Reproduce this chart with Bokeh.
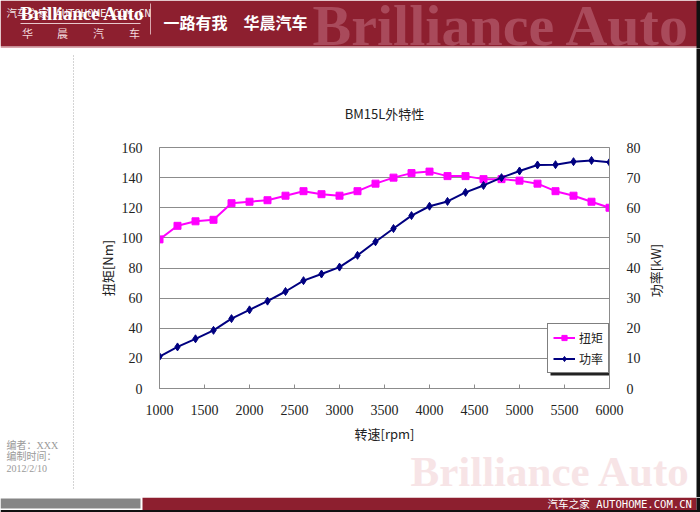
import math
from bokeh.plotting import figure
from bokeh.layouts import column, row
from bokeh.models import (Range1d, LinearAxis, FixedTicker, Legend, LegendItem)
from bokeh.core.properties import value
from bokeh.embed import file_html
from bokeh.resources import INLINE

# ---------------- data ----------------
rpm = [1000, 1200, 1400, 1600, 1800, 2000, 2200, 2400, 2600, 2800, 3000, 3200, 3400,
       3600, 3800, 4000, 4200, 4400, 4600, 4800, 5000, 5200, 5400, 5600, 5800, 6000]
torque_nm = [99, 108, 111, 112, 123, 124, 125, 128, 131, 129, 128, 131, 136,
             140, 143, 144, 141, 141, 139, 139, 138, 136, 131, 128, 124, 120]
power_kw = [10.6, 13.8, 16.5, 19.3, 23.2, 26.1, 29.0, 32.2, 35.8, 38.0, 40.3, 44.2, 48.7,
            53.1, 57.4, 60.5, 62.1, 65.1, 67.4, 70.0, 72.2, 74.2, 74.3, 75.3, 75.7, 75.1]
x_ticks = [1000, 1500, 2000, 2500, 3000, 3500, 4000, 4500, 5000, 5500, 6000]
torque_ticks = [0, 20, 40, 60, 80, 100, 120, 140, 160]
power_ticks = [0, 10, 20, 30, 40, 50, 60, 70, 80]
series_names = ["扭矩", "功率"]
chart_title = "BM15L外特性"
x_label = "转速[rpm]"
y_label_left = "扭矩[Nm]"
y_label_right = "功率[kW]"

# ---------------- styles ----------------
W, H = 700, 512
HEAD_H, FOOT_TOP = 48, 497
LEFT_W, RIGHT_X = 74, 696
FL, FR, FT, FB = 159, 609, 147, 388   # plot frame in page pixels
CHART_RIGHT = 645
CHART_BOTTOM = 445
RED = "#8D1F2F"
MAGENTA = "#FF00FF"
NAVY = "#000080"
GRID = "#8C8C8C"
DARK = "#111111"
NUM_FONT = "Liberation Serif"
CJK_FONT = "Noto Sans CJK SC"


def no_align(f):
    try:
        f.frame_align = False
    except Exception:
        pass
    return f


def canvas(x0, x1, y0, y1, bg="white"):
    """A blank figure whose data coordinates are the page's pixel coordinates."""
    f = figure(width=x1 - x0, height=y1 - y0, output_backend="svg", toolbar_location=None,
               x_range=Range1d(x0, x1), y_range=Range1d(y1, y0),
               x_axis_type=None, y_axis_type=None, min_border=0,
               background_fill_color=bg, border_fill_color=bg, outline_line_color=None)
    return no_align(f)


def box(f, l, r, t, b, color):
    f.quad(left=[l], right=[r], top=[t], bottom=[b], fill_color=color, line_color=None)


def txt(f, x, y, s, size, color, font=CJK_FONT, align="left", baseline="middle",
        style="normal", alpha=1.0, angle=0.0):
    f.text(x=[x], y=[y], text=[s], text_font=value(font), text_font_size=size,
           text_color=color, text_align=align, text_baseline=baseline,
           text_font_style=style, text_alpha=alpha, angle=angle)


def seg(f, x0, y0, x1, y1, color, width=1, dash="solid"):
    f.segment(x0=[x0], y0=[y0], x1=[x1], y1=[y1], line_color=color, line_width=width,
              line_dash=dash)


# ---------------- header ----------------
head = canvas(0, W, 0, HEAD_H)
box(head, 0, W, 0, 46, RED)
seg(head, 0, 47, W, 47, "#D9A7AE")
txt(head, 312, 25, "Brilliance Auto", "58px", "#A94A5B", font="Liberation Serif",
    style="bold")
txt(head, 20, 13, "Brilliance Auto", "19px", "white", font="Liberation Serif",
    style="bold")
seg(head, 20, 23, 140, 23, "#E8C8CC")
for cx_, ch in zip([27, 62, 98, 134], ["华", "晨", "汽", "车"]):
    txt(head, cx_, 32, ch, "11px", "#F2DADD", align="center")
seg(head, 150, 3, 150, 34, "#D9A7AE")
txt(head, 163, 21, "一路有我　华晨汽车", "16px", "white", style="bold")
txt(head, 6, 12, "汽车之家 AUTOHOME.COM.CN", "10.6px", "white",
    font="DejaVu Sans Mono, Noto Sans CJK SC", alpha=0.9)
box(head, RIGHT_X, W, 0, HEAD_H, DARK)

# ---------------- left margin ----------------
left = canvas(0, LEFT_W, HEAD_H, FOOT_TOP)
seg(left, 73, 55, 73, 488, "#A8A8A8", 1, "1 2")
txt(left, 6, 445, "编者：XXX", "10px", "#9A9A9A", font="Liberation Serif, Noto Sans CJK SC")
txt(left, 6, 456, "编制时间：", "10px", "#9A9A9A", font="Liberation Serif, Noto Sans CJK SC")
txt(left, 6, 468, "2012/2/10", "10px", "#9A9A9A", font="Liberation Serif")

# ---------------- chart ----------------
p = figure(width=CHART_RIGHT - LEFT_W, height=CHART_BOTTOM - HEAD_H,
           output_backend="svg", toolbar_location=None,
           x_range=Range1d(1000, 6000), y_range=Range1d(0, 160),
           min_border_left=FL - LEFT_W, min_border_right=CHART_RIGHT - FR,
           min_border_top=FT - HEAD_H, min_border_bottom=CHART_BOTTOM - FB,
           background_fill_color="white", border_fill_color="white",
           outline_line_color=GRID, outline_line_width=1)
no_align(p)
p.extra_y_ranges = {"power": Range1d(0, 80), "cy": Range1d(FB, FT)}
p.extra_x_ranges = {"cx": Range1d(FL, FR)}

p.title.text = chart_title
p.title.align = "center"
p.title.text_font = CJK_FONT
p.title.text_font_size = "13px"
p.title.text_font_style = "normal"
p.title.text_color = "#222222"
p.title.standoff = 50

xa = p.xaxis[0]
xa.ticker = FixedTicker(ticks=x_ticks)
xa.axis_label = x_label
ya = p.yaxis[0]
ya.ticker = FixedTicker(ticks=torque_ticks)
ya.axis_label = y_label_left
ra = LinearAxis(y_range_name="power", ticker=FixedTicker(ticks=power_ticks))
p.add_layout(ra, "right")

for ax in (xa, ya, ra):
    ax.axis_line_color = GRID
    ax.major_label_text_font = NUM_FONT
    ax.major_label_text_font_size = "14px"
    ax.major_label_text_color = "#222222"
    ax.axis_label_text_font = CJK_FONT
    ax.axis_label_text_font_size = "13px"
    ax.axis_label_text_font_style = "normal"
    ax.axis_label_text_color = "#222222"
    ax.minor_tick_line_color = None
for ax in (ya, ra):
    ax.major_tick_line_color = None
    ax.major_label_standoff = 11
ya.axis_label_standoff = 2
xa.major_tick_in = 4
xa.major_tick_out = 0
xa.major_tick_line_color = GRID
xa.major_label_standoff = 16
xa.axis_label_standoff = 6

p.xgrid.grid_line_color = None
p.ygrid.grid_line_color = GRID
p.ygrid.ticker = FixedTicker(ticks=torque_ticks)

tl = p.line(rpm, torque_nm, line_color=MAGENTA, line_width=2)
ts = p.scatter(rpm, torque_nm, marker="square", size=7, fill_color=MAGENTA, line_color=MAGENTA)
pl = p.line(rpm, power_kw, line_color=NAVY, line_width=2, y_range_name="power")
ps = p.scatter(rpm, power_kw, marker="diamond", size=8, fill_color=NAVY, line_color=NAVY,
               y_range_name="power")

# legend shadow (page pixels through cx / cy)
p.quad(left=[550], right=[609], top=[336], bottom=[375], fill_color="#222222",
       line_color=None, x_range_name="cx", y_range_name="cy")
legend = Legend(items=[LegendItem(label=series_names[0], renderers=[tl, ts]),
                       LegendItem(label=series_names[1], renderers=[pl, ps])],
                location=(388, 15), orientation="vertical",
                border_line_color="black", border_line_width=1,
                background_fill_color="white", background_fill_alpha=1.0,
                label_text_font=CJK_FONT, label_text_font_size="12px",
                label_text_color="#222222", glyph_width=22, glyph_height=13,
                label_height=13, spacing=4, padding=5, margin=0, label_standoff=4)
p.add_layout(legend, "center")

# right axis title (reads bottom to top, like the left one)
rlab = canvas(CHART_RIGHT, RIGHT_X, HEAD_H, CHART_BOTTOM)
txt(rlab, 655, 270, y_label_right, "13px", "#222222", align="center",
    angle=math.pi / 2)

# ---------------- watermark under chart ----------------
wm = canvas(LEFT_W, RIGHT_X, CHART_BOTTOM, FOOT_TOP)
txt(wm, 410, 471, "Brilliance Auto", "43px", "#F7E4E6", font="Liberation Serif",
    style="bold")

right_strip = canvas(RIGHT_X, W, HEAD_H, FOOT_TOP, bg=DARK)

# ---------------- footer ----------------
foot = canvas(0, W, FOOT_TOP, H)
box(foot, 0, 140, 498, 508, "#858585")
box(foot, 142, RIGHT_X, 497, 510, RED)
txt(foot, 547, 503, "汽车之家 AUTOHOME.COM.CN", "10.6px", "white",
    font="DejaVu Sans Mono, Noto Sans CJK SC")
box(foot, 0, W, 509.5, H, DARK)
box(foot, RIGHT_X, W, FOOT_TOP, H, DARK)

page = column(head,
              row(left, column(row(p, rlab, spacing=0), wm, spacing=0), right_strip,
                  spacing=0),
              foot, spacing=0)

open("out.html", "w").write(file_html(page, INLINE))
